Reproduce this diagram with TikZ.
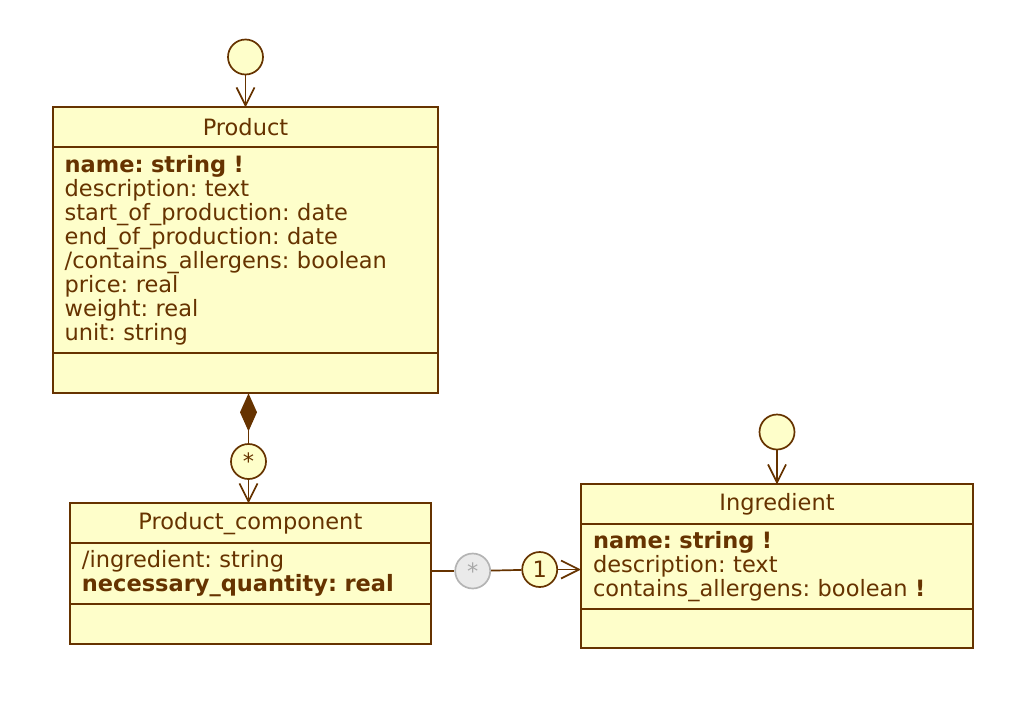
\documentclass[tikz,border=0pt]{standalone}
\usepackage{fontspec}
\setmainfont{DejaVu Sans}
\usepackage{xcolor}
\usetikzlibrary{positioning,arrows.meta,calc}
\definecolor{umlfill}{HTML}{FEFECA}
\definecolor{umlline}{HTML}{663300}
\definecolor{nullfill}{HTML}{EAEAEA}
\definecolor{nullline}{HTML}{B4B4B4}
\definecolor{nulltext}{HTML}{A8A8A8}
\frenchspacing

\begin{document}
\begin{tikzpicture}[x=1pt, y=-1pt, >={Straight Barb[length=18pt,width=18pt]},
    every node/.style={font=\fontsize{22.5}{24}\selectfont, text=umlline},
    classbox/.style={draw=umlline, line width=1.7pt, fill=umlfill, inner sep=0pt, outer sep=0pt},
    attrbox/.style={classbox, align=left, inner xsep=12pt},
    marker/.style={circle, draw=umlline, line width=1.7pt, fill=umlfill, minimum size=35pt, inner sep=0pt}]
    \useasboundingbox (0,0) rectangle (1030,710);

    % Product
    \node [classbox, minimum width=385.6pt, minimum height=40pt] (product) at (245.5,127.3) {Product};
    \node [attrbox, text width=361.6pt, minimum height=206pt, below=0pt of product] (productattrs) {\textbf{name: string !}\\description: text\\start\_of\_production: date\\end\_of\_production: date\\/contains\_allergens: boolean\\price: real\\weight: real\\unit: string};
    \node [classbox, minimum width=385.6pt, minimum height=40pt, below=0pt of productattrs] (productops) {};

    % Product_component
    \node [classbox, minimum width=360.7pt, minimum height=40pt] (component) at (250.3,523.3) {Product\_component};
    \node [attrbox, text width=336.7pt, minimum height=61pt, below=0pt of component] (componentattrs) {/ingredient: string\\\textbf{necessary\_quantity: real}};
    \node [classbox, minimum width=360.7pt, minimum height=40pt, below=0pt of componentattrs] (componentops) {};

    % Ingredient
    \node [classbox, minimum width=392pt, minimum height=40pt] (ingredient) at (777,504.3) {Ingredient};
    \node [attrbox, text width=368pt, minimum height=85pt, below=0pt of ingredient] (ingredientattrs) {\textbf{name: string !}\\description: text\\contains\_allergens: boolean \textbf{!}};
    \node [classbox, minimum width=392pt, minimum height=39pt, below=0pt of ingredientattrs] (ingredientops) {};

    % markers
    \node [marker] (productstart) at (245.5,57) {};
    \node [marker] (ingredientstart) at (777,432) {};
    \node [marker] (many) at (248.5,461.5) {*};
    \node [marker, draw=nullline, fill=nullfill, text=nulltext] (nullmany) at (472.7,571) {*};
    \node [marker] (one) at (539.7,569.5) {1};

    \draw [->, umlline, line width=1.7pt] (productstart) -- (product);
    \draw [->, umlline, line width=1.7pt] (ingredientstart) -- (ingredient);
    \draw [{Diamond[length=38pt,width=17pt,fill=umlline]}-, umlline, line width=1.7pt] (productops.south -| many) -- (many);
    \draw [->, umlline, line width=1.7pt] (many) -- (many |- component.north);
    \draw [umlline, line width=1.7pt] (componentattrs.east |- nullmany) -- (nullmany);
    \draw [umlline, line width=1.7pt] (nullmany) -- (one);
    \draw [->, umlline, line width=1.7pt] (one) -- (one -| ingredientattrs.west);
\end{tikzpicture}
\end{document}
